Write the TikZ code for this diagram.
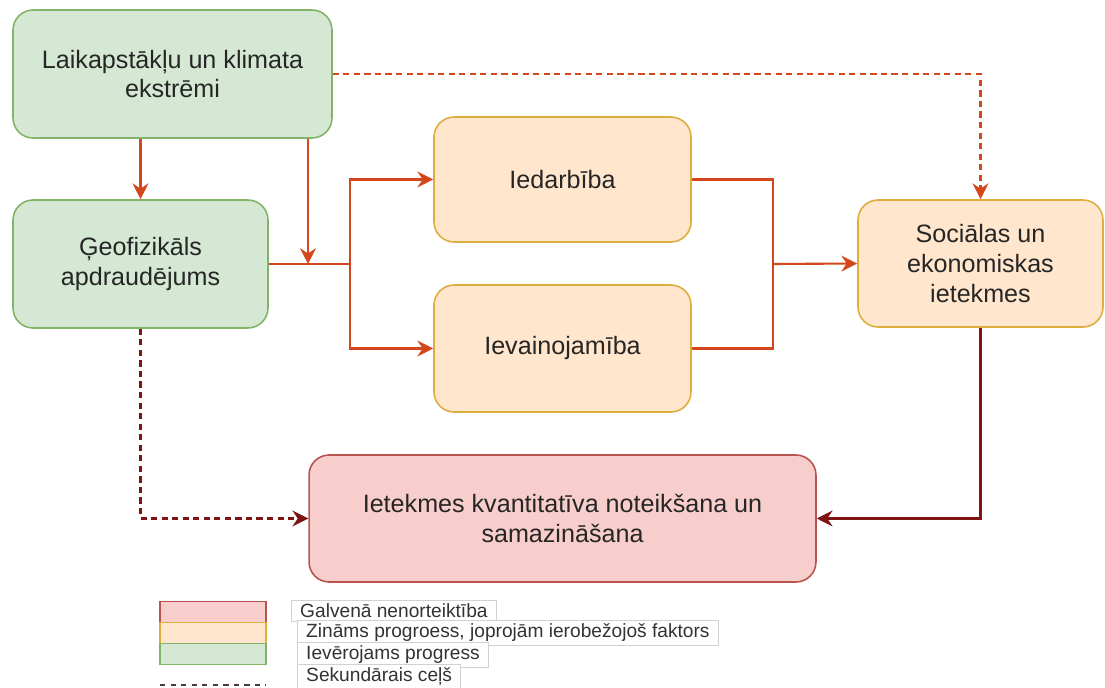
\documentclass[tikz,border=0pt]{standalone}
\usepackage{fontspec}
\setmainfont{Liberation Sans}
\usetikzlibrary{arrows.meta}
\definecolor{gfill}{HTML}{D5E8D4}\definecolor{gdraw}{HTML}{82B366}
\definecolor{ofill}{HTML}{FFE6CC}\definecolor{odraw}{HTML}{DDAE3C}
\definecolor{rfill}{HTML}{F8CECC}\definecolor{rdraw}{HTML}{B85450}
\definecolor{arrc}{HTML}{D4471C}
\definecolor{darrc}{HTML}{7E1414}
\definecolor{legdash}{HTML}{4A3A3A}
\tikzset{
  box/.style={draw, line width=0.9pt, rounded corners=0.4cm, inner sep=0pt, align=center,
    font=\fontsize{14.3}{17}\selectfont, text=black!85},
  gbox/.style={box, fill=gfill, draw=gdraw},
  obox/.style={box, fill=ofill, draw=odraw},
  rbox/.style={box, fill=rfill, draw=rdraw},
  tip/.style={-{Stealth[length=9pt,width=9pt,inset=3pt]}},
  arr/.style={draw=arrc, line width=1.2pt, tip},
  darr/.style={draw=darrc, line width=1.2pt, tip},
  ln/.style={draw=arrc, line width=1.2pt},
  dsh/.style={dash pattern=on 3.5pt off 2.5pt},
  lgbox/.style={draw, line width=0.9pt, minimum width=2.12cm, minimum height=0.42cm, inner sep=0pt},
  lglab/.style={draw=black!18, fill=white, line width=0.5pt, anchor=west, inner xsep=5pt, inner ysep=2pt,
    font=\fontsize{10.9}{12}\selectfont, text=black!80, minimum height=0.42cm},
}
\begin{document}
\begin{tikzpicture}[x=0.02cm, y=-0.02cm]
\useasboundingbox (0,0) rectangle (1105,688);
% nodes
\node[gbox, minimum width=6.38cm, minimum height=2.56cm] (A) at (172.5,74) {Laikapstākļu un klimata\\ekstrēmi};
\node[gbox, minimum width=5.1cm, minimum height=2.56cm] (B) at (140.5,264) {Ģeofizikāls\\apdraudējums};
\node[obox, minimum width=5.14cm, minimum height=2.5cm] (C) at (562.5,179.5) {Iedarbība};
\node[obox, minimum width=5.14cm, minimum height=2.54cm] (D) at (562.5,348.5) {Ievainojamība};
\node[obox, minimum width=4.9cm, minimum height=2.54cm] (E) at (980.5,263.5) {Sociālas un\\ekonomiskas\\ietekmes};
\node[rbox, minimum width=10.14cm, minimum height=2.54cm] (F) at (562.5,518.5) {Ietekmes kvantitatīva noteikšana un\\samazināšana};
% coordinates
\coordinate (J) at (308,264);
\coordinate (L) at (350,264);
\coordinate (R) at (773,264);
% connectors
\draw[arr] (A.south -| B.north) -- (B.north);
\draw[arr] (A.south -| J) -- (J);
\draw[ln] (B.east) -- (L);
\draw[arr] (L) |- (C.west);
\draw[arr] (L) |- (D.west);
\draw[ln] (C.east) -| (R) |- (D.east);
\draw[arr] (R) -- (E.west);
\draw[arr, dsh] (A.east) -| (E.north);
\draw[darr, dsh] (B.south) |- (F.west);
\draw[darr] (E.south) |- (F.east);
% legend
\node[lgbox, fill=rfill, draw=rdraw] (l1) at (213,612) {};
\node[lgbox, fill=ofill, draw=odraw] (l2) at (213,633) {};
\node[lgbox, fill=gfill, draw=gdraw] (l3) at (213,654) {};
\coordinate (d1) at (160,685);
\coordinate (d2) at (266,685);
\draw[legdash, line width=1pt, dash pattern=on 3pt off 3pt] (d1) -- (d2);
\node[lglab] (t1) at (291,611) {Galvenā nenorteiktība};
\node[lglab] (t2) at (297,633) {Zināms progroess, joprojām ierobežojoš faktors};
\node[lglab] (t3) at (297,655) {Ievērojams progress};
\node[lglab] (t4) at (297,677) {Sekundārais ceļš};
\end{tikzpicture}
\end{document}
